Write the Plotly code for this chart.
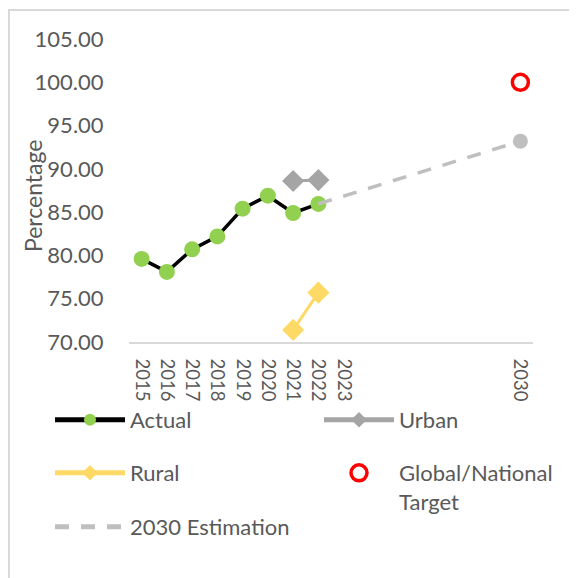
import plotly.graph_objects as go

years = [2015, 2016, 2017, 2018, 2019, 2020, 2021, 2022]
actual = [79.6, 78.1, 80.7, 82.2, 85.4, 86.9, 84.9, 85.95]
urban_years = [2021, 2022]
urban = [88.6, 88.7]
rural_years = [2021, 2022]
rural = [71.4, 75.7]
target_year = [2030]
target = [100.0]
est_years = [2022, 2030]
estimation = [85.95, 93.2]
tick_years = [2015, 2016, 2017, 2018, 2019, 2020, 2021, 2022, 2023, 2030]
tick_labels = [str(y) for y in tick_years]

FONT = "Lato"
TXT = "#595959"
W, H = 569, 570
L, R, T, B = 121, 44, 31, 236
PW, PH = W - L - R, H - T - B

fig = go.Figure()
fig.add_trace(go.Scatter(x=years, y=actual, mode="lines+markers", name="Actual",
                         line=dict(color="black", width=3.5),
                         marker=dict(color="#92D050", size=16), legend="legend"))
fig.add_trace(go.Scatter(x=urban_years, y=urban, mode="lines+markers", name="Urban",
                         line=dict(color="#A5A5A5", width=3),
                         marker=dict(color="#A5A5A5", size=17, symbol="diamond"), legend="legend2"))
fig.add_trace(go.Scatter(x=rural_years, y=rural, mode="lines+markers", name="Rural",
                         line=dict(color="#FFD966", width=3),
                         marker=dict(color="#FFD966", size=17, symbol="diamond"), legend="legend3"))
fig.add_trace(go.Scatter(x=target_year, y=target, mode="markers", name="Global/National<br>Target",
                         marker=dict(color="white", size=16, line=dict(color="#FF0000", width=3.5)),
                         legend="legend4"))
fig.add_trace(go.Scatter(x=est_years, y=estimation, mode="lines", name="2030 Estimation",
                         line=dict(color="#BFBFBF", width=3.5, dash="14px,12px"), legend="legend5"))
fig.add_trace(go.Scatter(x=est_years[1:], y=estimation[1:], mode="markers", showlegend=False,
                         marker=dict(color="#BFBFBF", size=15)))


def leg(xpx, ypx, sizing="constant"):
    return dict(orientation="v", xref="container", yref="container",
                xanchor="left", yanchor="top", x=xpx / W, y=1 - ypx / H,
                font=dict(family=FONT, size=22, color=TXT), itemwidth=70, valign="top",
                itemsizing=sizing, bgcolor="rgba(0,0,0,0)", borderwidth=0)


fig.update_layout(
    width=W, height=H,
    margin=dict(l=L, r=R, t=T, b=B, autoexpand=False),
    plot_bgcolor="white", paper_bgcolor="white",
    font=dict(family=FONT, size=22, color=TXT),
    legend=leg(42, 391),
    legend2=leg(311, 391),
    legend3=leg(42, 444),
    legend4=leg(311, 444, "trace"),
    legend5=leg(42, 498),
    xaxis=dict(range=[2014.5, 2030.5], tickmode="array", tickvals=tick_years, ticktext=tick_labels,
               tickangle=90, showgrid=False, zeroline=False, showline=True,
               linecolor="#D9D9D9", linewidth=1.5, ticks="outside", ticklen=11,
               tickcolor="rgba(0,0,0,0)",
               tickfont=dict(family=FONT, size=18.5, color=TXT)),
    yaxis=dict(range=[70, 105], tickmode="linear", tick0=70, dtick=5, tickformat=".2f",
               showgrid=False, zeroline=False, showline=False, ticks="outside", ticklen=20,
               tickcolor="rgba(0,0,0,0)",
               tickfont=dict(family=FONT, size=22, color=TXT)),
    annotations=[dict(text="Percentage", textangle=-90, xref="paper", yref="paper",
                      x=(25 - L) / PW, y=(T + PH - 188) / PH, xanchor="center", yanchor="middle",
                      showarrow=False, font=dict(family=FONT, size=23, color=TXT))],
    shapes=[dict(type="rect", xref="paper", yref="paper", x0=(1 - L) / PW, x1=1.2,
                 y0=-0.9, y1=(T + PH - 2) / PH,
                 line=dict(color="#D9D9D9", width=2), fillcolor="rgba(0,0,0,0)", layer="below")],
)

fig.write_html("out.html")
